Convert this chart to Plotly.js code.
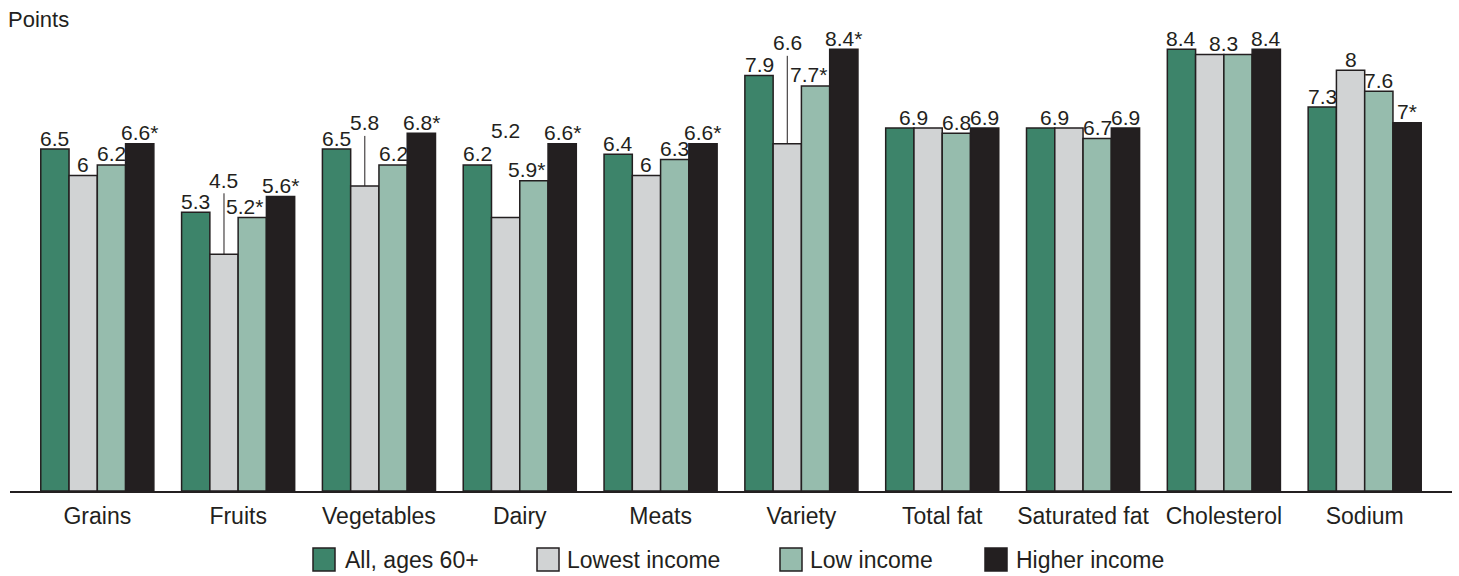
<!DOCTYPE html>
<html>
<head>
<meta charset="utf-8">
<script src="https://cdn.plot.ly/plotly-3.0.1.min.js"></script>
<style>html,body{margin:0;padding:0;background:#fff;}#chart{width:1459px;height:576px;}</style>
</head>
<body>
<div id="chart"></div>
<script>
// ---- Data ----
const categories = ['Grains', 'Fruits', 'Vegetables', 'Dairy', 'Meats', 'Variety', 'Total fat', 'Saturated fat', 'Cholesterol', 'Sodium'];
const seriesNames = ['All, ages 60+', 'Lowest income', 'Low income', 'Higher income'];

const allAges      = [6.5, 5.3, 6.5, 6.2, 6.4, 7.9, 6.9, 6.9, 8.4, 7.3];
const lowestIncome = [6.0, 4.5, 5.8, 5.2, 6.0, 6.6, 6.9, 6.9, 8.3, 8.0];
const lowIncome    = [6.2, 5.2, 6.2, 5.9, 6.3, 7.7, 6.8, 6.7, 8.3, 7.6];
const higherIncome = [6.6, 5.6, 6.8, 6.6, 6.6, 8.4, 6.9, 6.9, 8.4, 7.0];

// value labels as printed (asterisk = significant difference); '' = shared label with neighbour
const allAgesLabels      = ['6.5', '5.3', '6.5', '6.2', '6.4', '7.9', '6.9', '6.9', '8.4', '7.3'];
const lowestIncomeLabels = ['6', '4.5', '5.8', '5.2', '6', '6.6', '', '', '8.3', '8'];
const lowIncomeLabels    = ['6.2', '5.2*', '6.2', '5.9*', '6.3', '7.7*', '6.8', '6.7', '', '7.6'];
const higherIncomeLabels = ['6.6*', '5.6*', '6.8*', '6.6*', '6.6*', '8.4*', '6.9', '6.9', '8.4', '7*'];

// ---- Styles ----
const colors = ['#3d846a', '#d1d3d4', '#96bcad', '#231f20'];
const ink = '#231f20';
const FONT = 'Liberation Sans, Arial, Helvetica, sans-serif';
const BARGAP = 0.197;
const DEFAULT_DY = -11;
// per-label placement tweaks: [seriesIndex, categoryIndex, dx px, dy px, leader line]
const labelTweaks = [
  [1, 1, 0, -74, true],
  [1, 2, 0, -63, true],
  [1, 3, 0, -87, false],
  [1, 5, 0, -101, true],
  [2, 1, -8, DEFAULT_DY, false],
  [2, 3, -7, DEFAULT_DY, false],
  [2, 5, -7, DEFAULT_DY, false],
  [0, 6, 14, DEFAULT_DY, false],
  [0, 7, 14, DEFAULT_DY, false],
  [1, 8, 14, DEFAULT_DY, false]
];

const seriesValues = [allAges, lowestIncome, lowIncome, higherIncome];
const seriesLabels = [allAgesLabels, lowestIncomeLabels, lowIncomeLabels, higherIncomeLabels];

const traces = seriesValues.map((vals, s) => ({
  type: 'bar',
  name: seriesNames[s],
  x: categories,
  y: vals,
  marker: {color: colors[s], line: {color: ink, width: 1.5}},
  showlegend: false,
  hoverinfo: 'x+y+name'
}));

// ---- geometry (pixels) ----
const W = 1459, H = 576;
const M = {l: 10, r: 7, t: 20, b: 85};
const plotW = W - M.l - M.r, plotH = H - M.t - M.b;
const pxPerUnit = 52.6;
const yMax = plotH / pxPerUnit;
const px2x = px => (px - M.l) / plotW;
const py2y = py => (H - M.b - py) / plotH;

const annotations = [];
const barW = (1 - BARGAP) / seriesValues.length;
seriesValues.forEach((vals, s) => {
  vals.forEach((v, i) => {
    const txt = seriesLabels[s][i];
    if (!txt) return;
    const tw = labelTweaks.find(t => t[0] === s && t[1] === i);
    const dx = tw ? tw[2] : 0, dy = tw ? tw[3] : DEFAULT_DY, leader = tw ? tw[4] : false;
    annotations.push({
      x: i + (s - (seriesValues.length - 1) / 2) * barW,
      y: v, xref: 'x', yref: 'y',
      text: txt,
      showarrow: true, arrowhead: 0, arrowwidth: 1,
      arrowcolor: leader ? ink : 'rgba(0,0,0,0)',
      standoff: 0,
      ax: dx, ay: dy,
      font: {family: FONT, size: 21, color: ink}
    });
  });
});

// "Points" axis label
annotations.push({
  xref: 'paper', yref: 'paper', x: px2x(6), y: py2y(19),
  xanchor: 'left', yanchor: 'middle', showarrow: false,
  text: 'Points', font: {family: FONT, size: 22, color: ink}
});

// custom legend
const legendSq = [313, 537, 780, 985];
const legendTx = [343, 565, 808, 1014];
const shapes = [];
seriesNames.forEach((n, s) => {
  shapes.push({
    type: 'rect', xref: 'paper', yref: 'paper',
    x0: px2x(legendSq[s]), x1: px2x(legendSq[s] + 22),
    y0: py2y(571), y1: py2y(548),
    fillcolor: colors[s], line: {color: ink, width: 1.5}
  });
  annotations.push({
    xref: 'paper', yref: 'paper', x: px2x(legendTx[s]), y: py2y(560),
    xanchor: 'left', yanchor: 'middle', showarrow: false,
    text: n, font: {family: FONT, size: 23, color: ink}
  });
});

const layout = {
  width: W, height: H,
  margin: M,
  paper_bgcolor: '#ffffff', plot_bgcolor: '#ffffff',
  barmode: 'group', bargap: BARGAP, bargroupgap: 0,
  font: {family: FONT, color: ink},
  xaxis: {
    type: 'category', range: [-0.62, 9.62],
    showline: true, linecolor: ink, linewidth: 1.5,
    ticks: '', showgrid: false, zeroline: false,
    ticklabelstandoff: 4,
    tickfont: {family: FONT, size: 23, color: ink},
    fixedrange: true
  },
  yaxis: {
    range: [0, yMax], visible: false, showgrid: false, zeroline: false, fixedrange: true
  },
  annotations: annotations,
  shapes: shapes,
  showlegend: false
};

Plotly.newPlot('chart', traces, layout, {displayModeBar: false, staticPlot: true});
</script>
</body>
</html>
